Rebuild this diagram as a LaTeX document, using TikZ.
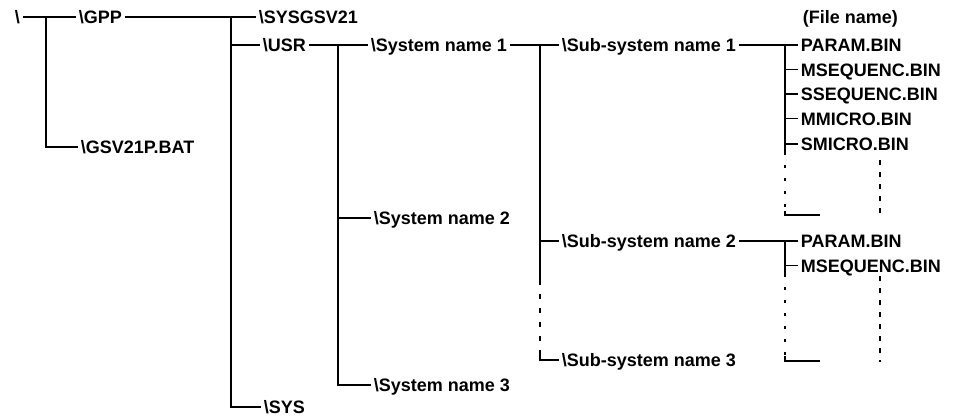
\documentclass[tikz,border=0pt]{standalone}
\usepackage{fontspec}
\setmainfont{Liberation Sans}
\begin{document}
\begin{tikzpicture}[x=1pt,y=-1pt,
  lbl/.style={anchor=west,inner xsep=2pt,inner ysep=0pt,text height=13pt,text depth=0pt,font=\fontsize{18}{21}\selectfont\bfseries},
  every path/.style={line width=1.8pt,line cap=butt},
  dshA/.style={dash pattern=on 5pt off 9pt},
  dshB/.style={dash pattern=on 3pt off 10pt},
  dshC/.style={dash pattern=on 5pt off 7pt}]
\useasboundingbox (0,0) rectangle (979,416);
% labels
\node[lbl] (root) at (12,17) {\textbackslash};
\node[lbl] (gpp) at (76,17) {\textbackslash GPP};
\node[lbl] (gsv) at (78,147) {\textbackslash GSV21P.BAT};
\node[lbl] (sysgsv) at (256,17) {\textbackslash SYSGSV21};
\node[lbl] (usr) at (260,45) {\textbackslash USR};
\node[lbl] (sys) at (261,407) {\textbackslash SYS};
\node[lbl] (sn1) at (368,45) {\textbackslash System name 1};
\node[lbl] (sn2) at (371,218) {\textbackslash System name 2};
\node[lbl] (sn3) at (371,385) {\textbackslash System name 3};
\node[lbl] (sub1) at (559,45) {\textbackslash Sub-system name 1};
\node[lbl] (sub2) at (559,241) {\textbackslash Sub-system name 2};
\node[lbl] (sub3) at (559,360) {\textbackslash Sub-system name 3};
\node[lbl] (fname) at (800,17) {(File name)};
\node[lbl] (param1) at (798,45) {PARAM.BIN};
\node[lbl] (mseq1) at (798,69.5) {MSEQUENC.BIN};
\node[lbl] (sseq1) at (798,94) {SSEQUENC.BIN};
\node[lbl] (mmic1) at (798,118.5) {MMICRO.BIN};
\node[lbl] (smic1) at (798,144) {SMICRO.BIN};
\node[lbl] (param2) at (798,241) {PARAM.BIN};
\node[lbl] (mseq2) at (798,265.5) {MSEQUENC.BIN};
% junctions
\coordinate (j0) at (46,17);
\coordinate (j1) at (231,17);
\coordinate (j2) at (338,45);
\coordinate (j3) at (540,45);
\coordinate (j3a) at (540,280);
\coordinate (j3b) at (540,354);
\coordinate (j4) at (785,45);
\coordinate (j4a) at (785,152);
\coordinate (j4b) at (785,211);
\coordinate (e4) at (820,215);
\coordinate (j5) at (785,241);
\coordinate (j5a) at (785,274);
\coordinate (j5b) at (785,356);
\coordinate (e5) at (820,361);
\coordinate (d1a) at (880,160);
\coordinate (d1b) at (880,216);
\coordinate (d2a) at (880,276);
\coordinate (d2b) at (880,362);
% connectors
\draw (root) -- (gpp);
\draw (j0) |- (gsv);
\draw (gpp) -- (sysgsv);
\draw (j1) |- (sys);
\draw (j1 |- usr) -- (usr);
\draw (usr) -- (sn1);
\draw (j2) |- (sn3);
\draw (j2 |- sn2) -- (sn2);
\draw (sn1) -- (sub1);
\draw (j3) -- (j3a);
\draw[dshA] (j3a) -- (j3b);
\draw (j3b) |- (sub3);
\draw (j3 |- sub2) -- (sub2);
\draw (sub1) -- (param1);
\draw (j4) -- (j4a);
\draw (j4 |- mseq1) -- (mseq1);
\draw (j4 |- sseq1) -- (sseq1);
\draw (j4 |- mmic1) -- (mmic1);
\draw (j4 |- smic1) -- (smic1);
\draw[dshB] (j4a) -- (j4b);
\draw (j4b) |- (e4);
\draw[dshC] (d1a) -- (d1b);
\draw (sub2) -- (param2);
\draw (j5) -- (j5a);
\draw (j5 |- mseq2) -- (mseq2);
\draw[dshB] (j5a) -- (j5b);
\draw (j5b) |- (e5);
\draw[dshC] (d2a) -- (d2b);
\end{tikzpicture}
\end{document}
